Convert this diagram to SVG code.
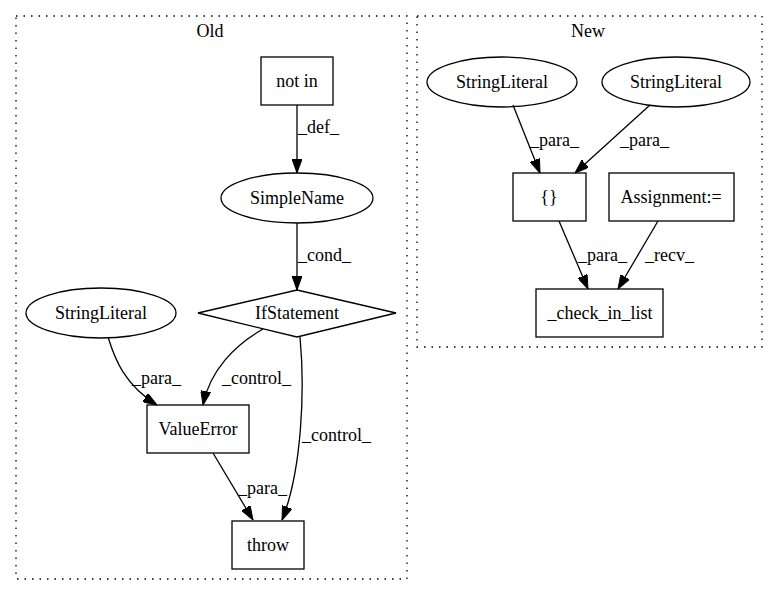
<svg xmlns="http://www.w3.org/2000/svg" width="777" height="596" viewBox="0 0 777 596">
<style>
text{font-family:"Liberation Serif","Times New Roman",serif;font-size:18px;fill:#000}
.n{text-anchor:middle}
.shape{fill:none;stroke:#000;stroke-width:1.3}
.cl{fill:none;stroke:#000;stroke-width:1.3;stroke-dasharray:1.5,6}
.e{fill:none;stroke:#000;stroke-width:1.3;marker-end:url(#ah)}
</style>
<defs>
<marker id="ah" viewBox="0 0 14 10" refX="14" refY="5" markerWidth="14" markerHeight="10" markerUnits="userSpaceOnUse" orient="auto">
<path d="M0,0 L14,5 L0,10 z" fill="#000" stroke="#000"/>
</marker>
</defs>
<rect width="777" height="596" fill="#fff"/>
<g id="cluster_old">
<rect class="cl" x="16" y="16" width="391" height="563"/>
<text class="n" x="210" y="37">Old</text>
</g>
<g id="cluster_new">
<rect class="cl" x="417" y="16" width="345" height="331"/>
<text class="n" x="588" y="37">New</text>
</g>
<g id="connectors">
<path class="e" d="M297,105 L297,173"/>
<text x="298" y="133">_def_</text>
<path class="e" d="M297,223 L297,290"/>
<text x="298" y="261">_cond_</text>
<path class="e" d="M108,337 C115,360 125,385 157,405"/>
<text x="132" y="384">_para_</text>
<path class="e" d="M263,329 C235,345 210,370 203,405"/>
<text x="222" y="384">_control_</text>
<path class="e" d="M300,337 C305,390 302,470 282,520"/>
<text x="302" y="441">_control_</text>
<path class="e" d="M213,453 L253,520"/>
<text x="238" y="494">_para_</text>
<path class="e" d="M513,105 L540,173"/>
<text x="530" y="146">_para_</text>
<path class="e" d="M650,105 L575,173"/>
<text x="620" y="146">_para_</text>
<path class="e" d="M559,221 L588,289"/>
<text x="578" y="261">_para_</text>
<path class="e" d="M658,221 L618,289"/>
<text x="645" y="261">_recv_</text>
</g>
<g id="not_in">
<rect class="shape" x="261" y="57" width="72" height="48"/>
<text class="n" x="297" y="87">not in</text>
</g>
<g id="simplename">
<ellipse class="shape" cx="297" cy="198" rx="76" ry="25"/>
<text class="n" x="297" y="204">SimpleName</text>
</g>
<g id="ifstatement">
<polygon class="shape" points="297,290 396,313 297,337 198,313"/>
<text class="n" x="297" y="319">IfStatement</text>
</g>
<g id="stringliteral_old">
<ellipse class="shape" cx="101" cy="313" rx="75" ry="25"/>
<text class="n" x="101" y="319">StringLiteral</text>
</g>
<g id="valueerror">
<rect class="shape" x="147" y="405" width="102" height="48"/>
<text class="n" x="198" y="435">ValueError</text>
</g>
<g id="throw">
<rect class="shape" x="232" y="521" width="72" height="48"/>
<text class="n" x="268" y="551">throw</text>
</g>
<g id="stringliteral_new1">
<ellipse class="shape" cx="502" cy="82" rx="75" ry="25"/>
<text class="n" x="502" y="88">StringLiteral</text>
</g>
<g id="stringliteral_new2">
<ellipse class="shape" cx="676" cy="82" rx="74" ry="25"/>
<text class="n" x="676" y="88">StringLiteral</text>
</g>
<g id="braces">
<rect class="shape" x="513" y="173" width="73" height="48"/>
<text class="n" x="549" y="203">{}</text>
</g>
<g id="assignment">
<rect class="shape" x="609" y="173" width="125" height="48"/>
<text class="n" x="671" y="203">Assignment:=</text>
</g>
<g id="check_in_list">
<rect class="shape" x="536" y="289" width="127" height="48"/>
<text class="n" x="600" y="319">_check_in_list</text>
</g>
</svg>
